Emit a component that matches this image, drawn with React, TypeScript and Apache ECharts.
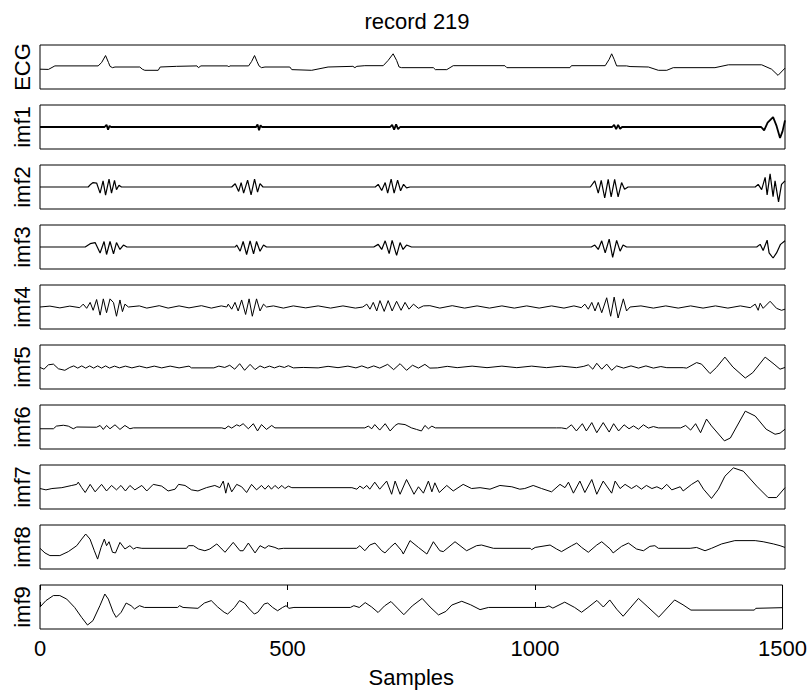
import React, { useEffect, useRef } from "react";
import * as echarts from "echarts";

const panelNames = ["ECG", "imf1", "imf2", "imf3", "imf4", "imf5", "imf6", "imf7", "imf8", "imf9"];
const xTicks = [0, 500, 1000, 1500];

const ecg = [[0,-0.1],[17,-0.11],[30,0.05],[117,0.05],[124,0.2],[132,0.52],[138,0.2],[141,0.03],[146,-0.03],[151,0],[201,0],[206,-0.1],[211,-0.15],[238,-0.15],[242,0],[275,0.03],[316,0.05],[319,-0.03],[324,0.05],[378,0.05],[380,0],[382,0.05],[420,0.05],[426,0.25],[432,0.52],[437,0.25],[441,0.05],[446,-0.03],[453,0],[503,0],[507,-0.12],[547,-0.15],[580,0],[630,0.03],[634,-0.03],[638,0.03],[654,0.06],[691,0.06],[701,0.3],[711,0.6],[718,0.3],[723,0],[728,-0.03],[792,-0.03],[796,-0.12],[819,-0.12],[832,0.06],[936,0.06],[940,-0.03],[1067,-0.03],[1070,0.06],[1138,0.06],[1146,0.35],[1151,0.6],[1156,0.35],[1161,0.05],[1181,0.05],[1188,0.02],[1225,0],[1245,-0.15],[1262,-0.15],[1275,-0.03],[1359,-0.03],[1386,0.1],[1453,0.1],[1473,-0.1],[1486,-0.38],[1500,-0.05]];

const imf1 = [[0,0],[130,0],[134,0.1],[137,-0.12],[140,0.05],[143,0],[435,0],[438,0.12],[441,-0.15],[444,0.08],[447,0],[705,0],[709,0.1],[713,-0.12],[717,0.12],[721,-0.1],[725,0],[1152,0],[1156,0.1],[1160,-0.1],[1164,0.1],[1168,-0.08],[1172,0],[1452,0],[1458,-0.15],[1465,0.2],[1476,0.45],[1483,0.05],[1490,-0.5],[1495,-0.2],[1500,0.3]];

const imf2 = [[0,0],[97,0],[101,0.1],[107,0.2],[114,0.18],[121,-0.28],[127,0.28],[132,-0.37],[139,0.36],[144,-0.28],[150,0.3],[154,-0.12],[159,0.08],[164,0],[386,0],[393,0.15],[400,-0.2],[405,0.2],[410,-0.28],[418,0.31],[425,-0.36],[432,0.36],[438,-0.23],[443,0.15],[449,0],[675,0],[681,0.12],[688,-0.16],[695,0.2],[700,-0.28],[707,0.36],[713,-0.28],[720,0.31],[726,-0.17],[732,0.12],[738,-0.04],[745,0],[1108,0],[1117,0.28],[1124,-0.28],[1130,0.3],[1137,-0.5],[1144,0.35],[1150,-0.45],[1157,0.35],[1164,-0.45],[1171,0.2],[1177,-0.1],[1184,0],[1440,0],[1446,0.12],[1453,-0.12],[1460,0.44],[1464,-0.36],[1470,0.6],[1476,-0.44],[1480,0.28],[1487,-0.68],[1493,0.12],[1500,0.28]];

const imf3 = [[0,0],[91,0],[101,0.15],[111,0.2],[121,-0.27],[129,0.25],[134,-0.34],[141,0.25],[148,-0.31],[154,0.2],[161,-0.11],[168,0.09],[175,0],[393,0],[396,0.09],[403,-0.19],[409,0.25],[416,-0.34],[423,0.28],[430,-0.31],[436,0.25],[443,-0.19],[450,0.09],[456,0],[672,0],[681,0.12],[688,-0.11],[695,0.28],[703,-0.3],[709,0.3],[718,-0.38],[725,0.2],[731,-0.11],[738,0.09],[748,0],[1110,0],[1117,0.09],[1124,-0.11],[1131,0.28],[1138,-0.27],[1146,0.36],[1153,-0.47],[1161,0.3],[1168,-0.19],[1174,0.09],[1181,0],[1443,0],[1450,0.12],[1456,-0.16],[1464,0.31],[1468,-0.27],[1476,-0.5],[1483,-0.27],[1491,0.12],[1500,0.28]];

const imf4 = [[0,0],[20,0.04],[40,-0.04],[60,0.04],[80,-0.03],[87,0.13],[94,-0.06],[101,0.21],[107,-0.15],[114,0.34],[121,-0.37],[127.5,0.37],[134,-0.26],[141,0.37],[148,0.2],[154,-0.42],[161,0.32],[166,-0.21],[171,0.13],[178,0],[200,0.05],[215,-0.05],[240,0.06],[258,-0.05],[280,0.05],[300,-0.04],[325,0.06],[345,-0.05],[365,0.05],[376,0],[379,0.13],[386,-0.1],[392.6,0.21],[399,-0.18],[406,0.32],[414,-0.34],[421,0.37],[427.5,-0.42],[436,0.37],[443,-0.18],[450,0.13],[456,0],[470,0.05],[490,-0.05],[510,0.05],[535,-0.04],[560,0.05],[585,-0.05],[610,0.05],[635,-0.05],[650,0],[658,0.13],[664.4,-0.1],[671,0.21],[678,-0.18],[684.5,0.29],[693,-0.2],[701,0.29],[709,-0.18],[718,0.26],[727,-0.15],[735,0.21],[743,-0.1],[752,0.13],[762,-0.06],[772,0.05],[785,0.06],[805,-0.05],[830,0.06],[855,-0.05],[880,0.05],[905,-0.05],[930,0.05],[955,-0.05],[980,0.05],[1005,-0.05],[1030,0.05],[1055,-0.05],[1075,0.05],[1090,-0.03],[1097,0.13],[1104,-0.1],[1111,0.21],[1117.5,-0.18],[1124,0.21],[1131,-0.26],[1141,0.42],[1149,-0.42],[1156,0.45],[1164,-0.5],[1174.5,0.37],[1181,-0.18],[1188,0],[1210,0.05],[1235,-0.05],[1260,0.05],[1285,-0.05],[1310,0.05],[1335,-0.05],[1360,0.05],[1385,-0.05],[1410,0.05],[1430,-0.03],[1440,0.13],[1446,-0.15],[1450,0.17],[1456,-0.06],[1470,0.26],[1483,-0.06],[1493,-0.15],[1500,-0.1]];

const imf5 = [[0,-0.02],[8,-0.1],[17,0.1],[27,0.13],[37,-0.08],[50,-0.15],[60,-0.02],[68,0.05],[76,-0.05],[84,0.05],[92,-0.05],[100,0.05],[108,-0.05],[116,0.05],[124,-0.05],[132,0.05],[140,-0.05],[150,0.04],[160,-0.04],[172,0.04],[185,-0.04],[200,0.04],[215,-0.04],[230,0.04],[245,-0.04],[262,0.04],[280,-0.04],[300,0.04],[305,-0.04],[350,-0.04],[360,0.04],[372,-0.02],[382,0.08],[392,-0.1],[402,0.15],[412,-0.15],[423,0.12],[433,-0.12],[443,0.05],[452,-0.04],[462,0.04],[472,-0.04],[482,0.04],[492,-0.02],[500,0.06],[510,-0.04],[530,-0.02],[560,-0.04],[580,0.03],[600,-0.03],[620,0.04],[636,-0.04],[648,0.05],[660,-0.05],[672,0.05],[684,-0.05],[700,0.12],[712,-0.12],[725,0.15],[738,-0.15],[750,0.08],[762,-0.05],[775,0.12],[785,-0.05],[800,-0.04],[820,0.03],[840,-0.03],[870,0.04],[900,-0.03],[930,0.04],[960,-0.03],[990,0.04],[1020,-0.03],[1050,0.04],[1080,-0.03],[1095,0.03],[1104,0.1],[1113,-0.1],[1121,0.17],[1131,-0.1],[1141,0.13],[1151,-0.15],[1161,0.05],[1175,-0.05],[1190,0.05],[1205,-0.05],[1220,0.05],[1235,-0.05],[1250,0.02],[1262,-0.03],[1295,-0.03],[1302,-0.05],[1322,0.2],[1332,0.13],[1349,-0.3],[1362,-0.02],[1379,0.45],[1395,0],[1420,-0.5],[1435,-0.26],[1460,0.45],[1478,0.13],[1490,-0.1],[1500,-0.02]];

const imf6 = [[0,-0.08],[27,-0.08],[33,0.04],[47,0.08],[57,0.04],[67,-0.08],[74,0],[114,-0.01],[121,0.07],[127.5,-0.11],[134,0.07],[141,-0.08],[151,0.1],[161,-0.11],[171,0.07],[181,-0.08],[188,-0.04],[366,-0.04],[372.5,-0.08],[379,0.04],[386,-0.05],[396,0.1],[402,0.04],[409,0.15],[419.5,-0.08],[429.5,0.15],[438,-0.18],[446,0.11],[456,-0.11],[466.5,0.07],[473,-0.04],[654,-0.04],[661,0.04],[668,-0.08],[674,0.11],[684,-0.14],[695,0.15],[705,-0.18],[715,0.07],[721,0.15],[735,0.11],[748,-0.04],[758,-0.11],[768,-0.18],[775,0.07],[782,-0.08],[789,0.04],[796,-0.04],[1040,-0.04],[1050,-0.04],[1060,-0.08],[1070,0.1],[1080,-0.18],[1092,0.15],[1100,-0.18],[1111,0.2],[1121,-0.26],[1134,0.2],[1146,-0.23],[1155,0.15],[1165,-0.18],[1176,0.1],[1186,-0.08],[1195,0.05],[1205,-0.1],[1215,0.1],[1225,-0.05],[1235,0.02],[1245,-0.04],[1290,-0.04],[1300,0.07],[1310,-0.14],[1320,0.15],[1330,-0.26],[1342,0.36],[1352,0.05],[1378,-0.63],[1390,-0.5],[1420,0.72],[1440,0.5],[1462,-0.1],[1480,-0.33],[1490,-0.28],[1500,-0.1]];

const imf7 = [[0,-0.07],[12,-0.13],[24,-0.07],[44,-0.03],[64,0.07],[74,0.12],[77,0.22],[84,-0.03],[91,-0.25],[101,0.12],[111,-0.22],[124,0.12],[134,-0.18],[144,0.07],[154,-0.13],[163,0.07],[172,-0.18],[181,0.07],[191,-0.13],[205,0.07],[215,-0.18],[228,0.12],[245,0.04],[258,-0.18],[272,-0.1],[279,0.12],[292,0.07],[305,-0.13],[318,-0.18],[335,-0.03],[352,0.07],[362,-0.03],[369,0.27],[374,-0.28],[379,0.19],[386,-0.22],[396,0.12],[406,0.01],[416,-0.25],[426,0.12],[436,-0.13],[446,0.07],[453,-0.1],[460,0.07],[466,-0.1],[473,0.07],[480,-0.07],[487,0.07],[493,-0.07],[500,0.04],[507,-0.03],[628,-0.03],[638,-0.1],[644,0.04],[651,-0.07],[658,0.07],[664,-0.1],[674,0.22],[684,-0.1],[698,0.27],[708,-0.33],[715,0.27],[725,-0.33],[738,0.34],[748,-0.1],[753,-0.33],[762,0.01],[772,-0.28],[782,0.27],[789,-0.22],[795,0.19],[804,-0.25],[819,0.07],[832,-0.18],[852,0.12],[869,-0.07],[886,-0.03],[906,-0.1],[926,0.07],[950,0.01],[966,-0.1],[976,-0.07],[993,0.07],[1010,-0.07],[1030,-0.22],[1047,0.12],[1057,-0.03],[1064,0.22],[1074,-0.28],[1087,0.27],[1097,-0.25],[1111,0.34],[1121,-0.33],[1134,0.27],[1151,-0.28],[1158,0.27],[1168,-0.07],[1178,0.12],[1191,-0.07],[1201,0.07],[1211,-0.1],[1221,0.07],[1232,-0.07],[1242,0.01],[1252,-0.1],[1262,0.12],[1272,-0.13],[1289,0.01],[1295,-0.18],[1312,0.12],[1325,0.3],[1336,-0.1],[1352,-0.52],[1366,-0.1],[1379,0.49],[1396,0.87],[1416,0.72],[1443,0.04],[1466,-0.48],[1483,-0.48],[1500,-0.03]];

const imf8 = [[0,-0.06],[10,-0.27],[20,-0.39],[40,-0.39],[57,-0.21],[74,0.06],[84,0.36],[92,0.59],[100.7,0.36],[109.4,-0.17],[116,-0.55],[123,-0.02],[129.5,0.36],[134,0.06],[139,0.24],[146,-0.24],[152,-0.27],[161,0.21],[171,-0.09],[181,0.06],[188,-0.09],[194.6,-0.02],[205,-0.06],[295,-0.06],[299,0.06],[309,0.06],[319,-0.09],[332,-0.17],[342,-0.09],[356,0.14],[372.5,-0.24],[389,0.21],[402.6,-0.17],[409,-0.17],[419.5,0.18],[433,-0.27],[443,0.06],[453,-0.06],[460,0.06],[473,-0.02],[480,-0.09],[490,-0.06],[637.5,-0.06],[644,0.06],[654,-0.17],[664,0.09],[674.5,0.18],[688,-0.17],[694.6,-0.27],[705,-0.02],[715,0.18],[728,-0.17],[731.5,-0.32],[745,0.29],[762,-0.02],[779,-0.32],[792,0.24],[805,-0.17],[812,-0.21],[835.6,0.24],[859,-0.17],[879,0.06],[889,0.09],[913,-0.06],[987,-0.06],[990,-0.12],[997,-0.02],[1027,0.09],[1040,-0.09],[1050,-0.21],[1070.5,0.06],[1080.6,0.18],[1090.6,-0.02],[1104,-0.24],[1121,0.09],[1131,0.24],[1148,-0.09],[1154,-0.27],[1171,0.03],[1184.6,0.18],[1201,-0.09],[1215,-0.17],[1228,0.03],[1238,0.06],[1245,-0.06],[1309,-0.06],[1322,-0.02],[1339,-0.17],[1352,-0.06],[1372.5,0.14],[1399,0.29],[1440,0.29],[1456,0.24],[1476.5,0.14],[1490,0.06],[1500,-0.02]];

const imf9 = [[0,0],[12,0.29],[27,0.52],[40,0.52],[54,0.36],[70,-0.02],[84,-0.47],[96,-0.82],[107,-0.62],[121,0.06],[131,0.59],[138,0.36],[148,-0.24],[154,-0.47],[164,-0.24],[174,0.18],[184,0.06],[191,-0.09],[201,0.06],[211,-0.02],[278,-0.02],[282,0.06],[289,-0.02],[319,-0.06],[332,0.18],[346,0.29],[359,0],[372,-0.24],[379,-0.32],[393,-0.02],[403,0.29],[413,0.18],[423,-0.09],[433,-0.32],[440,-0.24],[453,0.14],[460,0.18],[470,-0.02],[480,-0.17],[490,-0.02],[497,0.06],[503,-0.06],[513,-0.02],[627,-0.02],[634,0.06],[645,-0.02],[657,0.2],[670,0],[683,-0.25],[696,0.05],[709,0.25],[722,-0.05],[735,-0.35],[752,0.05],[772,0.39],[788,0],[805,-0.36],[820,-0.2],[832,0.09],[852,0.26],[870,0.1],[889,-0.12],[906,-0.02],[1020,-0.02],[1028,0.05],[1036,-0.05],[1060,0.22],[1080,-0.02],[1094,-0.24],[1107,-0.02],[1125,0.3],[1138,0],[1151,0.32],[1165,-0.1],[1178,-0.42],[1209,0.39],[1228,0],[1250,-0.46],[1282,0.32],[1299,0.1],[1315,-0.14],[1443,-0.14],[1446,-0.06],[1500,-0.03]];

const seriesData = [ecg, imf1, imf2, imf3, imf4, imf5, imf6, imf7, imf8, imf9];

const FONT = "'Liberation Sans', Arial, Helvetica, sans-serif";
const FS = 22;

export default function App() {
  const ref = useRef<HTMLDivElement>(null);
  useEffect(() => {
    if (!ref.current) return;
    const chart = echarts.init(ref.current, undefined, { renderer: "svg" });
    const n = panelNames.length;
    const grids = panelNames.map((_, i) => ({
      left: 40,
      right: 25,
      top: 45 + i * 60,
      height: 44,
      show: true,
      borderColor: "#000",
      borderWidth: 1,
      backgroundColor: "transparent",
    }));
    const xAxes: any[] = panelNames.map((_, i) => {
      const last = i === n - 1;
      return {
        type: "value",
        gridIndex: i,
        min: 0,
        max: 1500,
        interval: 500,
        position: "bottom",
        axisLine: { show: false },
        splitLine: { show: false },
        axisTick: { show: last, inside: true, length: 5, lineStyle: { color: "#000" } },
        axisLabel: {
          show: last,
          color: "#000",
          fontSize: FS,
          fontFamily: FONT,
          margin: 8,
          formatter: (v: number) => (xTicks.includes(v) ? String(v) : ""),
        },
        name: last ? "Samples" : "",
        nameLocation: "middle",
        nameGap: 37,
        nameTextStyle: { color: "#000", fontSize: FS, fontFamily: FONT },
      };
    });
    xAxes.push({
      type: "value",
      gridIndex: n - 1,
      min: 0,
      max: 1500,
      interval: 500,
      position: "top",
      axisLine: { show: false },
      splitLine: { show: false },
      axisTick: { show: true, inside: true, length: 5, lineStyle: { color: "#000" } },
      axisLabel: { show: false },
    });
    const yAxes = panelNames.map((name, i) => ({
      type: "value",
      gridIndex: i,
      min: -1,
      max: 1,
      axisLine: { show: false },
      axisTick: { show: false },
      axisLabel: { show: false },
      splitLine: { show: false },
      name,
      nameLocation: "middle",
      nameRotate: 90,
      nameGap: 7,
      nameTextStyle: { color: "#000", fontSize: FS, fontFamily: FONT },
    }));
    const series = seriesData.map((d, i) => ({
      type: "line",
      xAxisIndex: i,
      yAxisIndex: i,
      data: d,
      showSymbol: false,
      symbol: "none",
      silent: true,
      lineStyle: { color: "#000", width: i === 1 ? 1.8 : i === 2 || i === 3 ? 1.2 : 1 },
    }));
    chart.setOption({
      animation: false,
      backgroundColor: "#fff",
      title: {
        text: "record 219",
        left: 412,
        top: 5,
        textAlign: "center",
        textStyle: { color: "#000", fontSize: FS, fontWeight: "normal", fontFamily: FONT },
      },
      grid: grids,
      xAxis: xAxes,
      yAxis: yAxes,
      series,
    });
    return () => chart.dispose();
  }, []);
  return (
    <div
      ref={ref}
      style={{ position: "fixed", left: 0, top: 0, width: 810, height: 694, background: "#fff" }}
    />
  );
}
